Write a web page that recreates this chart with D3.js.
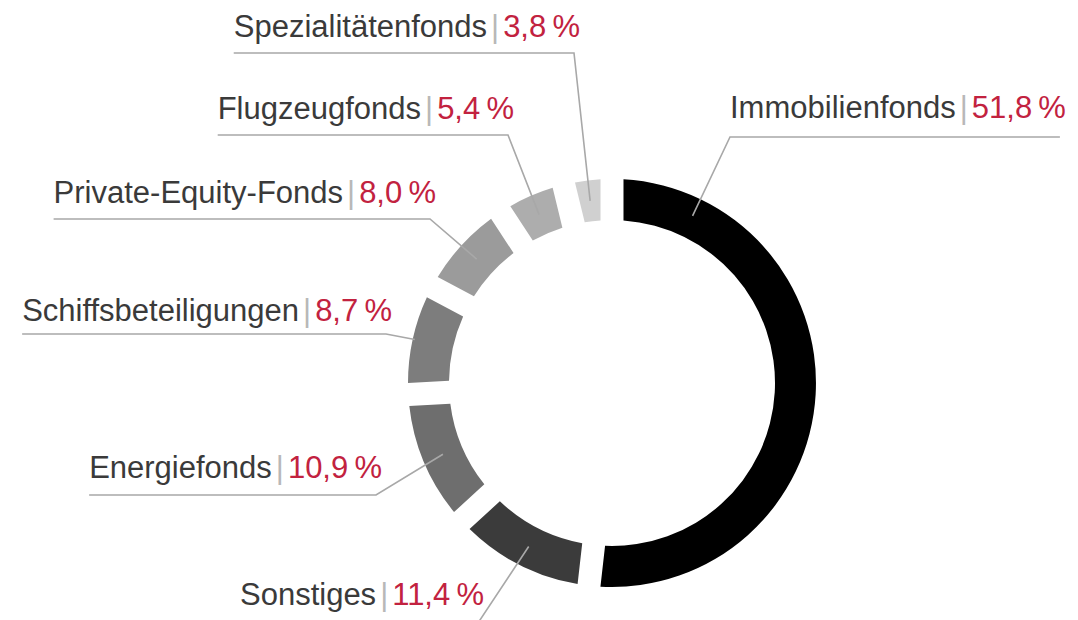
<!DOCTYPE html>
<html lang="de">
<head>
  <meta charset="UTF-8">
  <title>Fondsarten</title>
  <script src="https://cdn.jsdelivr.net/npm/d3@7/dist/d3.min.js"></script>
  <style>
    body { margin: 0; background: #fff; }
    text { font-family: "Liberation Sans Narrow", "Liberation Sans", sans-serif; }
  </style>
</head>
<body>
  <svg id="chart"></svg>
  <script>
    // data, in segment order (clockwise from 12 o'clock)
    const categories = ["Immobilienfonds", "Sonstiges", "Energiefonds", "Schiffsbeteiligungen",
                        "Private-Equity-Fonds", "Flugzeugfonds", "Spezialitätenfonds"];
    const shares = [51.8, 11.4, 10.9, 8.7, 8.0, 5.4, 3.8];
    const greys = ["#000000", "#3b3b3b", "#6e6e6e", "#7d7d7d", "#9b9b9b", "#adadad", "#d0d0d0"];

    // where each label sits (text end for left side, text start for right side)
    const labelLayout = {
      "Immobilienfonds":      {x: 730, y: 118, lineY: 137, side: "right", along: 0.138, depth: 0.55},
      "Sonstiges":            {x: 476, y: 605, lineY: 623, side: "left"},
      "Energiefonds":         {x: 374, y: 478, lineY: 495, side: "left"},
      "Schiffsbeteiligungen": {x: 384, y: 321, lineY: 334, side: "left", depth: 0.95},
      "Private-Equity-Fonds": {x: 428, y: 203, lineY: 219, side: "left"},
      "Flugzeugfonds":        {x: 506, y: 119, lineY: 135, side: "left"},
      "Spezialitätenfonds":   {x: 572, y: 37,  lineY: 53,  side: "left"}
    };

    const width = 1078, height = 620;
    const cx = 612, cy = 383, rOuter = 204, rInner = 163;
    const fmt = v => d3.format(".1f")(v).replace(".", ",") + "\u2009%";

    const svg = d3.select("#chart").attr("width", width).attr("height", height);

    const pie = d3.pie().sort(null).value(d => d.value);
    const arcs = pie(categories.map((c, i) => ({name: c, value: shares[i], color: greys[i]})));

    const arc = d3.arc().innerRadius(rInner).outerRadius(rOuter)
        .padRadius(rOuter).padAngle(23 / rOuter);

    const g = svg.append("g").attr("transform", `translate(${cx}, ${cy})`);

    g.selectAll("path.seg").data(arcs).join("path")
      .attr("class", "seg")
      .attr("fill", d => d.data.color)
      .attr("d", arc);

    // labels
    const labels = svg.append("g");
    arcs.forEach(d => {
      const lay = labelLayout[d.data.name];
      const t = labels.append("text")
        .attr("y", lay.y)
        .attr("font-size", 31)
        .attr("fill", "#3a3a3a");
      t.append("tspan").text(d.data.name);
      t.append("tspan").attr("fill", "#b8b8b8").attr("dx", 4).text("|");
      t.append("tspan").attr("fill", "#c2223f").attr("dx", 4).text(fmt(d.data.value));

      const w = t.node().getComputedTextLength();
      const x0 = lay.side === "left" ? lay.x - w : lay.x;
      const x1 = x0 + w;
      t.attr("x", x0);

      // target point on the ring
      const f = lay.along == null ? 0.5 : lay.along;
      const depth = lay.depth == null ? 0.5 : lay.depth;
      const a = d.startAngle + (d.endAngle - d.startAngle) * f;
      const r = rInner + (rOuter - rInner) * depth;
      const tx = cx + r * Math.sin(a), ty = cy - r * Math.cos(a);

      const pts = lay.side === "left"
        ? [[x0, lay.lineY], [x1 + 2, lay.lineY], [tx, ty]]
        : [[x1 + 2, lay.lineY], [x0, lay.lineY], [tx, ty]];

      labels.append("path")
        .attr("fill", "none")
        .attr("stroke", "#a8a8a8")
        .attr("stroke-width", 1.6)
        .attr("d", d3.line()(pts));
    });
  </script>
</body>
</html>
